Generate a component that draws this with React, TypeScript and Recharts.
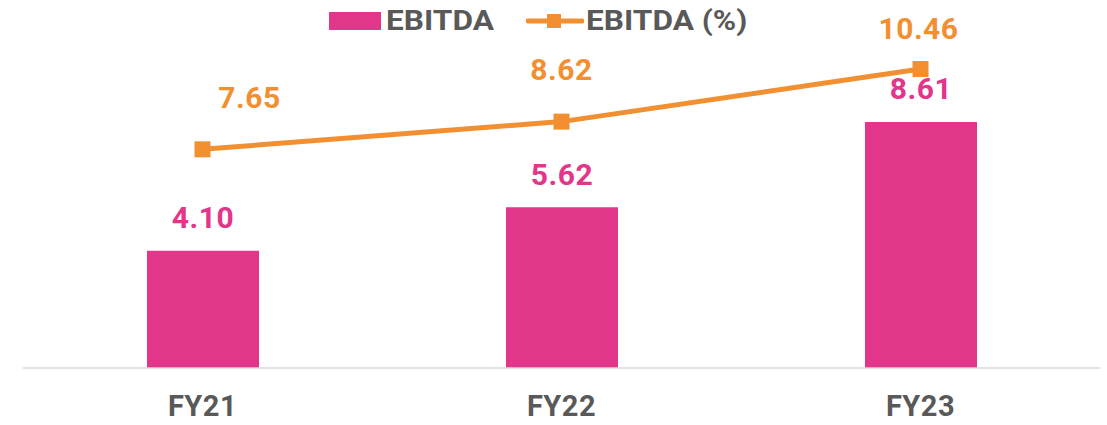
import React from 'react';
import { ComposedChart, Bar, Line, XAxis, YAxis, LabelList } from 'recharts';

const categories = ['FY21', 'FY22', 'FY23'];
const ebitda = [4.1, 5.62, 8.61];
const ebitdaPct = [7.65, 8.62, 10.46];

const PINK = '#E2368A';
const ORANGE = '#F28F31';
const GREY = '#595959';
const FONT = 'Roboto, "Open Sans", sans-serif';

const data = categories.map((c, i) => ({ name: c, ebitda: ebitda[i], pct: ebitdaPct[i] }));

// the line labels are not all centred on their points in the original
const lineLabelShift = [
  { dx: 47, dy: -52 },
  { dx: 0, dy: -52 },
  { dx: -2, dy: -41 },
];

const SquareDot = (props: any) => {
  const { cx, cy } = props;
  if (cx == null || cy == null) return null;
  return <rect x={cx - 8} y={cy - 8} width={16} height={16} fill={ORANGE} />;
};

const LineLabel = (props: any) => {
  const { x, y, value, index } = props;
  const s = lineLabelShift[index] || { dx: 0, dy: -50 };
  return (
    <text
      x={x + s.dx}
      y={y + s.dy}
      textAnchor="middle"
      dominantBaseline="central"
      fill={ORANGE}
      fontSize={30}
      fontWeight={700}
      fontFamily={FONT}
      letterSpacing={0.5}
    >
      {value.toFixed(2)}
    </text>
  );
};

const BarLabel = (props: any) => {
  const { x, y, width, value } = props;
  return (
    <text
      x={x + width / 2}
      y={y - 33}
      textAnchor="middle"
      dominantBaseline="central"
      fill={PINK}
      fontSize={30}
      fontWeight={700}
      fontFamily={FONT}
      letterSpacing={0.5}
    >
      {value.toFixed(2)}
    </text>
  );
};

const Tick = (props: any) => {
  const { x, y, payload } = props;
  return (
    <text
      x={x}
      y={y + 30}
      textAnchor="middle"
      dominantBaseline="central"
      fill={GREY}
      fontSize={29}
      fontWeight={700}
      fontFamily={FONT}
      letterSpacing={0.5}
    >
      {payload.value}
    </text>
  );
};

const legendText: React.CSSProperties = {
  position: 'absolute',
  top: 3,
  fontFamily: FONT,
  fontWeight: 700,
  fontSize: 28,
  color: GREY,
  lineHeight: '36px',
  whiteSpace: 'nowrap',
  transform: 'scaleX(1.13)',
  transformOrigin: 'left center',
};

export default function App() {
  return (
    <div style={{ position: 'absolute', left: 0, top: 0, width: 1107, height: 425, background: '#fff' }}>
      {/* legend */}
      <span style={{ position: 'absolute', left: 329, top: 12, width: 52, height: 18, background: PINK }} />
      <span style={{ ...legendText, left: 386 }}>EBITDA</span>
      <svg width={58} height={20} style={{ position: 'absolute', left: 526, top: 11 }}>
        <line x1={2} y1={10} x2={56} y2={10} stroke={ORANGE} strokeWidth={5} strokeLinecap="round" />
        <rect x={21} y={3} width={14} height={14} fill={ORANGE} />
      </svg>
      <span style={{ ...legendText, left: 586 }}>EBITDA (%)</span>
      <ComposedChart
        width={1107}
        height={425}
        data={data}
        margin={{ top: 25, right: 7, bottom: 17, left: 23 }}
        barCategoryGap={123}
      >
        <XAxis
          dataKey="name"
          height={40}
          axisLine={{ stroke: '#D9D9D9', strokeWidth: 1.5 }}
          tickLine={false}
          tick={<Tick />}
          interval={0}
        />
        <YAxis hide domain={[0, 12]} />
        <Bar dataKey="ebitda" fill={PINK} barSize={112} isAnimationActive={false}>
          <LabelList dataKey="ebitda" content={<BarLabel />} />
        </Bar>
        <Line
          dataKey="pct"
          stroke={ORANGE}
          strokeWidth={5}
          dot={<SquareDot />}
          activeDot={false}
          isAnimationActive={false}
        >
          <LabelList dataKey="pct" content={<LineLabel />} />
        </Line>
      </ComposedChart>
    </div>
  );
}
